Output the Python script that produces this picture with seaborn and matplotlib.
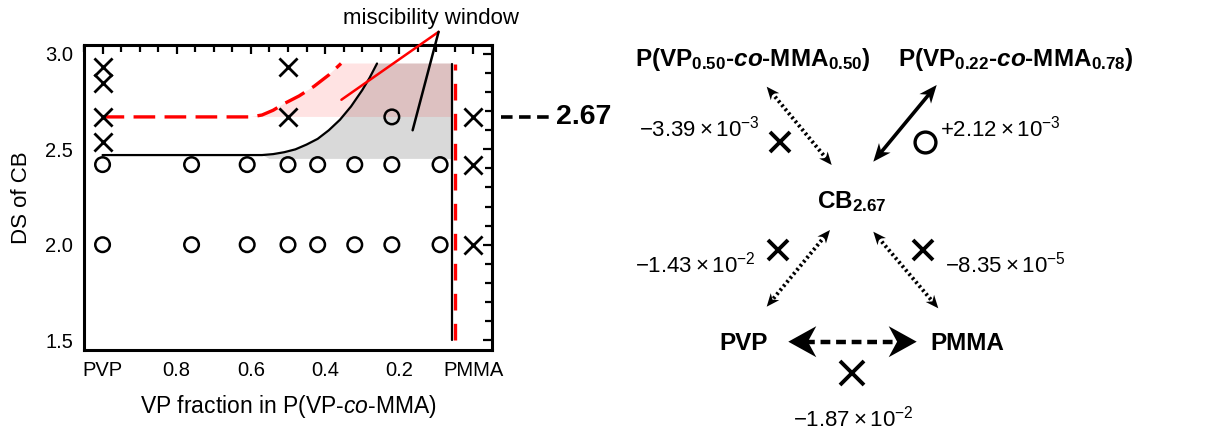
import numpy as np
import pandas as pd
import matplotlib
matplotlib.use("Agg")
import matplotlib.pyplot as plt
import seaborn as sns

# ---------------- data (left panel) ----------------
vp_fraction_circles = [1.0, 0.76, 0.61, 0.50, 0.42, 0.32, 0.22, 0.09,
                       1.0, 0.76, 0.61, 0.50, 0.42, 0.32, 0.22, 0.09,
                       0.22]
ds_circles = [2.42] * 8 + [2.0] * 8 + [2.67]

vp_fraction_crosses = [1.0, 1.0, 1.0, 1.0, 0.50, 0.50, 0.0, 0.0, 0.0]
ds_crosses = [2.93, 2.85, 2.67, 2.54, 2.93, 2.67, 2.67, 2.42, 2.0]

# black (solid) boundary curve
black_curve_x = [1.0, 0.57, 0.54, 0.51, 0.48, 0.45, 0.42, 0.39, 0.36, 0.33, 0.30, 0.28, 0.26]
black_curve_y = [2.47, 2.47, 2.475, 2.485, 2.50, 2.525, 2.555, 2.60, 2.655, 2.725, 2.81, 2.875, 2.95]
# red (dashed) boundary curve
red_curve_x = [1.0, 0.60, 0.57, 0.54, 0.51, 0.47, 0.43, 0.39, 0.357]
red_curve_y = [2.67, 2.67, 2.68, 2.705, 2.74, 2.78, 2.83, 2.89, 2.95]

window_right_x = 0.055       # right edge of shaded windows
window_black_x = 0.0565      # black vertical boundary
window_red_x = 0.051         # red dashed vertical boundary
window_top = 2.95
gray_bottom = 2.45
gray_left_bottom_x = 0.55
pink_bottom = 2.67
vertical_bottom = 1.5

x_ticks = [1.0, 0.8, 0.6, 0.4, 0.2, 0.0]
x_tick_labels = ["PVP", "0.8", "0.6", "0.4", "0.2", "PMMA"]
y_ticks = [1.5, 2.0, 2.5, 3.0]
y_tick_labels = ["1.5", "2.0", "2.5", "3.0"]

# ---------------- data (right panel: interaction diagram) ----------------
node_labels = [r"P(VP$_{\mathbf{0.50}}$-$\mathbfit{co}$-MMA$_{\mathbf{0.50}}$)",
               r"P(VP$_{\mathbf{0.22}}$-$\mathbfit{co}$-MMA$_{\mathbf{0.78}}$)",
               r"CB$_{\mathbf{2.67}}$",
               "PVP",
               "PMMA"]
node_xy = [(753, 66), (1016, 66), (852, 208), (744, 350), (967, 350)]

chi_values = [r"$-3.39\times10^{-3}$", r"$+2.12\times10^{-3}$",
              r"$-1.43\times10^{-2}$", r"$-8.35\times10^{-5}$",
              r"$-1.87\times10^{-2}$"]
chi_xy = [(699, 136.5), (1000, 136.5), (695, 273), (1005, 273), (853, 426.5)]

arrow_start = [(766.7, 86.7), (936.7, 85.0), (830.0, 230.0), (873.3, 231.7), (788.3, 341.7)]
arrow_end = [(831.7, 165.0), (873.3, 161.7), (766.7, 306.7), (938.3, 308.3), (916.7, 341.7)]
arrow_kind = ["dotted", "solid", "dotted", "dotted", "dashed"]

result_marker = ["x", "o", "x", "x", "x"]
result_xy = [(780, 141.7), (925, 141.7), (778.3, 250), (923.3, 250), (852.3, 373.3)]
result_size = [15, 15, 15, 15, 17]

# ---------------- style ----------------
sns.set_style("white")
plt.rcParams["font.family"] = ["Liberation Sans", "DejaVu Sans"]
plt.rcParams["text.color"] = "black"
plt.rcParams["axes.labelcolor"] = "black"
plt.rcParams["xtick.color"] = "black"
plt.rcParams["ytick.color"] = "black"
plt.rcParams["mathtext.fontset"] = "custom"
plt.rcParams["mathtext.rm"] = "Liberation Sans"
plt.rcParams["mathtext.it"] = "Liberation Sans:italic"
plt.rcParams["mathtext.bf"] = "Liberation Sans:bold"
plt.rcParams["mathtext.bfit"] = "Liberation Sans:italic:bold"
plt.rcParams["mathtext.sf"] = "Liberation Sans"

W, H = 1232, 434
fig = plt.figure(figsize=(W / 100, H / 100), dpi=100)
fig.patch.set_facecolor("white")

# ================= left panel =================
ax = fig.add_axes([84 / W, 1 - 350 / H, (492 - 84) / W, (350 - 45) / H])
ax.set_facecolor("white")

# shaded windows (gray: right of black curve; pink: right of red curve)
gx = list(black_curve_x[1:]) + [window_right_x, window_right_x, gray_left_bottom_x]
gy = list(black_curve_y[1:]) + [window_top, gray_bottom, gray_bottom]
ax.fill(gx, gy, color="#d9d9d9", lw=0, zorder=1)
px = list(red_curve_x[1:]) + [window_right_x, window_right_x]
py = list(red_curve_y[1:]) + [window_top, pink_bottom]
ax.fill(px, py, color="red", alpha=0.11, lw=0, zorder=1.1)

# boundaries
ax.plot(black_curve_x, black_curve_y, color="black", lw=1.6, zorder=2)
ax.plot(red_curve_x, red_curve_y, color="red", lw=2.4, dashes=(6.5, 2.8), zorder=2.1)
ax.plot([window_black_x, window_black_x], [vertical_bottom, window_top], color="black", lw=1.6, zorder=2)
ax.plot([window_red_x, window_red_x], [vertical_bottom, window_top], color="red", lw=2.4,
        dashes=(5.0, 4.0), zorder=2.1)

# observed points
df_o = pd.DataFrame({"vp": vp_fraction_circles, "ds": ds_circles})
df_x = pd.DataFrame({"vp": vp_fraction_crosses, "ds": ds_crosses})
sns.scatterplot(data=df_o, x="vp", y="ds", marker="o", s=110, facecolor="none",
                edgecolor="black", linewidth=1.8, ax=ax, zorder=3, legend=False)
sns.scatterplot(data=df_x, x="vp", y="ds", marker="x", s=170, color="black",
                linewidth=2.0, ax=ax, zorder=3, legend=False)

ax.set_xlim(1.0495, -0.048)
ax.set_ylim(1.448, 3.047)
ax.set_xticks(x_ticks)
ax.set_xticklabels(x_tick_labels)
ax.set_yticks(y_ticks)
ax.set_yticklabels(y_tick_labels)
ax.set_xticks(np.arange(-0.05, 1.051, 0.05), minor=True)
ax.set_yticks(np.arange(1.5, 3.01, 0.1), minor=True)
ax.tick_params(which="both", direction="in", top=True, right=True, width=1.6,
               labelsize=14.5, colors="black")
ax.tick_params(which="major", length=6.5, pad=8)
ax.tick_params(which="minor", length=5)
for s in ax.spines.values():
    s.set_linewidth(2.2)
    s.set_color("black")
ax.set_xlabel(r"VP fraction in P(VP-$\mathit{co}$-MMA)", fontsize=16.5, labelpad=9)
ax.set_ylabel("DS of CB", fontsize=16, labelpad=9)

# miscibility window annotation
apex = (0.094, 3.116)
ax.annotate("", xy=(0.356, 2.76), xytext=apex, annotation_clip=False,
            arrowprops=dict(arrowstyle="-", color="red", lw=1.8, shrinkA=0, shrinkB=0))
ax.annotate("", xy=(0.164, 2.60), xytext=apex, annotation_clip=False,
            arrowprops=dict(arrowstyle="-", color="black", lw=1.8, shrinkA=0, shrinkB=0))
ax.text(0.115, 3.155, "miscibility window", fontsize=16, ha="center", va="baseline",
        clip_on=False)

# 2.67 marker to the right
ax.plot([-0.074, -0.205], [2.67, 2.67], color="black", lw=2.6, dashes=(3.2, 1.8),
        clip_on=False)
ax.text(-0.222, 2.67, "2.67", fontsize=20.5, fontweight="bold", ha="left", va="center",
        clip_on=False)

# ================= right panel (diagram) =================
ad = fig.add_axes([0, 0, 1, 1])
ad.set_xlim(0, W)
ad.set_ylim(H, 0)
ad.axis("off")
ad.patch.set_alpha(0)


def draw_head(tip, frm, L, Wd, notch=0.3):
    tip = np.asarray(tip, float)
    d = tip - np.asarray(frm, float)
    d /= np.hypot(*d)
    n = np.array([-d[1], d[0]])
    base = tip - d * L
    poly = [tip, base + n * Wd / 2, tip - d * L * (1 - notch), base - n * Wd / 2]
    ad.fill([p[0] for p in poly], [p[1] for p in poly], color="black", lw=0, zorder=4)


styles = {
    "dotted": dict(lw=2.8, ls=(0, (0.6, 0.75)), L=13, Wd=11),
    "solid": dict(lw=2.6, ls="-", L=18, Wd=15),
    "dashed": dict(lw=3.2, ls=(0, (2.2, 1.3)), L=28, Wd=31),
}
for (x0, y0), (x1, y1), kind in zip(arrow_start, arrow_end, arrow_kind):
    st = styles[kind]
    p0 = np.array([x0, y0])
    p1 = np.array([x1, y1])
    d = (p1 - p0) / np.hypot(*(p1 - p0))
    cut = st["L"] * 0.6
    a = p0 + d * cut
    b = p1 - d * cut
    ad.plot([a[0], b[0]], [a[1], b[1]], color="black", lw=st["lw"], ls=st["ls"],
            solid_capstyle="butt", dash_capstyle="butt", zorder=3)
    draw_head(p1, p0, st["L"], st["Wd"])
    draw_head(p0, p1, st["L"], st["Wd"])

for lab, (x, y) in zip(node_labels, node_xy):
    ad.text(x, y, lab, fontsize=17.5, fontweight="bold", ha="center", va="baseline")

for lab, (x, y) in zip(chi_values, chi_xy):
    ad.text(x, y, lab, fontsize=16, ha="center", va="baseline")

for m, (x, y), s in zip(result_marker, result_xy, result_size):
    if m == "o":
        ad.plot(x, y, marker="o", ms=s, mfc="none", mec="black", mew=2.4)
    else:
        ad.plot(x, y, marker="x", ms=s, color="black", mew=2.8)

fig.savefig("out.png", dpi=100, facecolor="white")
